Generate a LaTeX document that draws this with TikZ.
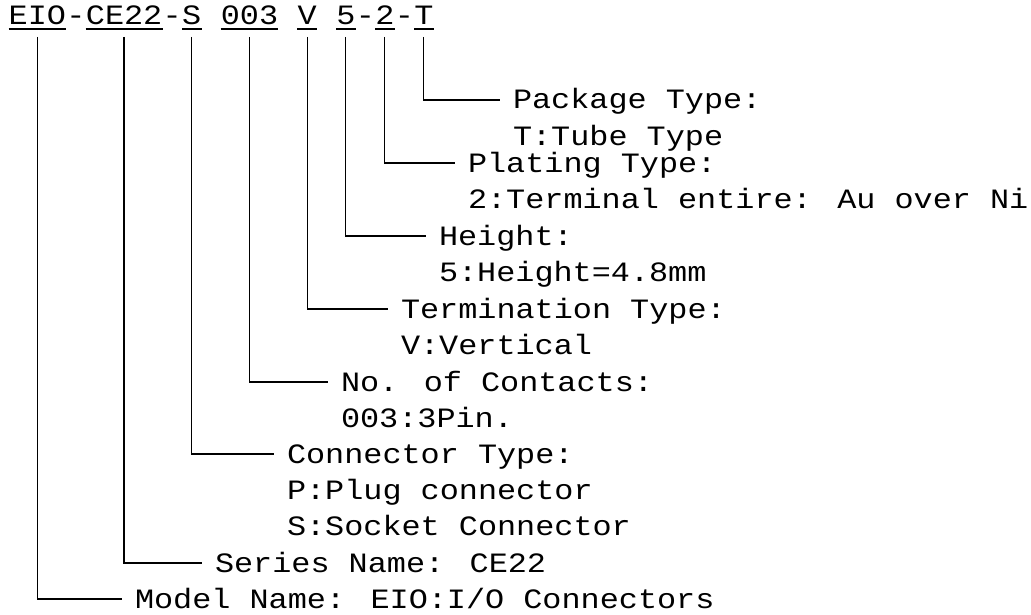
\documentclass[tikz,border=0pt]{standalone}
\usepackage{fontspec}
\newfontfamily\partmono[FakeStretch=1.137]{Liberation Mono}
\usetikzlibrary{positioning}
\newcommand{\partfont}{\partmono\fontsize{28pt}{36pt}\selectfont}
\tikzset{
    every picture/.style={x=1pt, y=-1pt},
    % part number segments and separators
    code/.style={font=\partfont, inner sep=0pt, outer ysep=12pt, text depth=0pt, anchor=base west},
    sepchar/.style={font=\partfont, inner sep=0pt, anchor=base west},
    % field descriptions
    field/.style={font=\partfont, inner sep=0pt, outer xsep=13pt, text height=22pt, text depth=4pt, anchor=base west},
    leader/.style={draw=black, line width=1.3pt},
    uline/.style={draw=black, line width=1.3pt}
}

\begin{document}
\begin{tikzpicture}

    \useasboundingbox (0,0) rectangle (1031,615);

    % Part number
    \node[code] (eio) at (8.5,25) {EIO};
    \node[sepchar] (d1) at (eio.base east) {-};
    \node[code] (series) at (d1.base east) {CE22};
    \node[sepchar] (d2) at (series.base east) {-};
    \node[code] (ctype) at (d2.base east) {S};
    \node[code] (pins) at ([xshift=19.1pt]ctype.base east) {003};
    \node[code] (term) at ([xshift=19.1pt]pins.base east) {V};
    \node[code] (height) at ([xshift=19.1pt]term.base east) {5};
    \node[sepchar] (d3) at (height.base east) {-};
    \node[code] (plating) at (d3.base east) {2};
    \node[sepchar] (d4) at (plating.base east) {-};
    \node[code] (pack) at (d4.base east) {T};

    % Underlines
    \draw[uline] ([yshift=-4pt]eio.base west) -- ([yshift=-4pt]eio.base east);
    \draw[uline] ([yshift=-4pt]series.base west) -- ([yshift=-4pt]series.base east);
    \draw[uline] ([yshift=-4pt]ctype.base west) -- ([yshift=-4pt]ctype.base east);
    \draw[uline] ([yshift=-4pt]pins.base west) -- ([yshift=-4pt]pins.base east);
    \draw[uline] ([yshift=-4pt]term.base west) -- ([yshift=-4pt]term.base east);
    \draw[uline] ([yshift=-4pt]height.base west) -- ([yshift=-4pt]height.base east);
    \draw[uline] ([yshift=-4pt]plating.base west) -- ([yshift=-4pt]plating.base east);
    \draw[uline] ([yshift=-4pt]pack.base west) -- ([yshift=-4pt]pack.base east);

    % Descriptions
    \node[field] (packlbl) at (500,109) {Package Type:};
    \node[field] (packval) at ([yshift=-36.3pt]packlbl.base west) {T:Tube Type};
    \node[field] (platlbl) at (455,172) {Plating Type:};
    \node[field] (platval) at ([yshift=-36.3pt]platlbl.base west) {2:Terminal entire: Au over Ni};
    \node[field] (htlbl) at (426,245) {Height:};
    \node[field] (htval) at ([yshift=-36.3pt]htlbl.base west) {5:Height=4.8mm};
    \node[field] (termlbl) at (388,318) {Termination Type:};
    \node[field] (termval) at ([yshift=-36.3pt]termlbl.base west) {V:Vertical};
    \node[field] (pinlbl) at (328,391) {No. of Contacts:};
    \node[field] (pinval) at ([yshift=-36.3pt]pinlbl.base west) {003:3Pin.};
    \node[field] (ctlbl) at (274,463) {Connector Type:};
    \node[field] (ctplug) at ([yshift=-36.3pt]ctlbl.base west) {P:Plug connector};
    \node[field] (ctsock) at ([yshift=-36.3pt]ctplug.base west) {S:Socket Connector};
    \node[field] (serlbl) at (202,572) {Series Name: CE22};
    \node[field] (modlbl) at (122,608) {Model Name: EIO:I/O Connectors};

    % Leaders
    \draw[leader] (pack.south) |- (packlbl.west);
    \draw[leader] (plating.south) |- (platlbl.west);
    \draw[leader] (height.south) |- (htlbl.west);
    \draw[leader] (term.south) |- (termlbl.west);
    \draw[leader] (pins.south) |- (pinlbl.west);
    \draw[leader] (ctype.south) |- (ctlbl.west);
    \draw[leader] (series.south) |- (serlbl.west);
    \draw[leader] (eio.south) |- (modlbl.west);

\end{tikzpicture}
\end{document}
